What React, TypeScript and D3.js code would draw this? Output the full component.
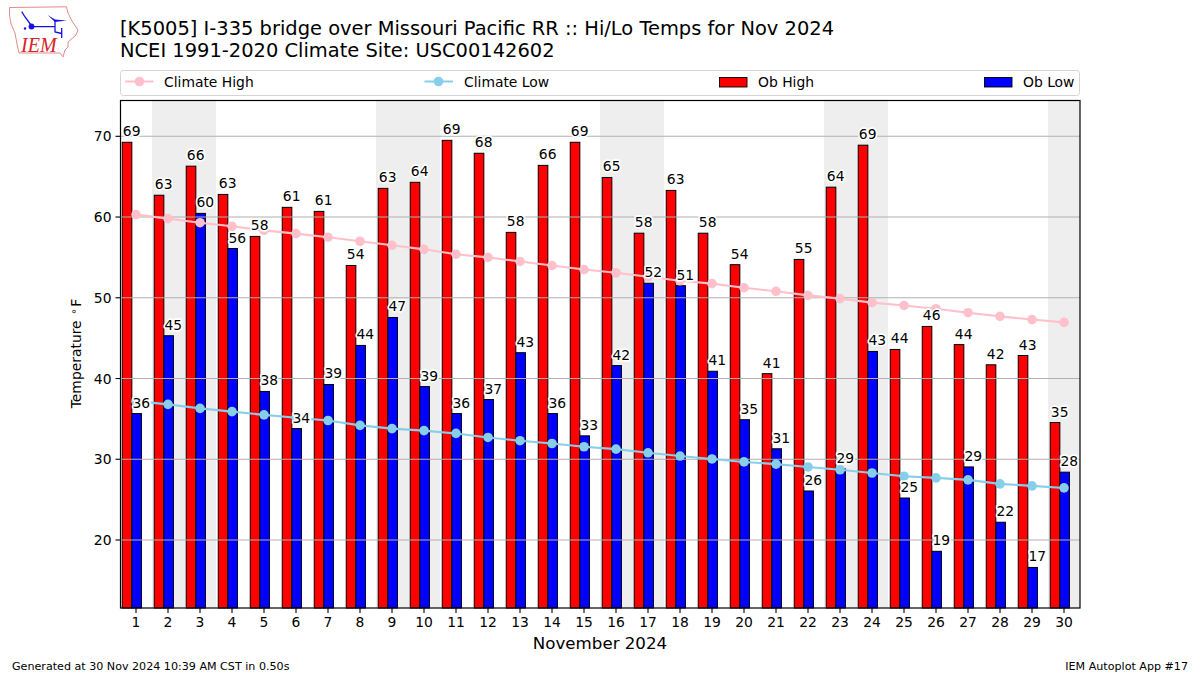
import React from "react";
import * as d3 from "d3";

const days = d3.range(1, 31);
const obHigh = [69.26,62.7,66.3,62.8,57.6,61.2,60.7,54.0,63.55,64.3,69.5,67.9,58.1,66.4,69.26,64.9,58.0,63.3,58.0,54.1,40.6,54.75,63.7,68.9,43.6,46.45,44.2,41.7,42.85,34.55];
const obLow = [35.66,45.3,60.45,56.1,38.4,33.8,39.26,44.1,47.56,39.0,35.66,37.4,43.2,35.66,32.9,41.6,51.8,51.5,40.9,34.9,31.3,26.07,28.8,43.35,25.2,18.6,29.05,22.2,16.6,28.4];
const highLabels = [69,63,66,63,58,61,61,54,63,64,69,68,58,66,69,65,58,63,58,54,41,55,64,69,44,46,44,42,43,35];
const lowLabels = [36,45,60,56,38,34,39,44,47,39,36,37,43,36,33,42,52,51,41,35,31,26,29,43,25,19,29,22,17,28];
const climateHigh = [60.3,59.8,59.3,58.85,58.35,57.95,57.5,57.0,56.5,56.0,55.4,55.0,54.5,54.0,53.5,53.1,52.6,52.1,51.75,51.25,50.8,50.3,49.9,49.4,49.05,48.65,48.15,47.7,47.3,46.95];
const climateLow = [37.2,36.8,36.3,35.9,35.5,35.15,34.8,34.2,33.8,33.55,33.2,32.7,32.3,31.95,31.55,31.25,30.8,30.4,30.04,29.67,29.4,29.05,28.7,28.3,27.9,27.7,27.45,26.95,26.7,26.45];
const weekendStarts = [2, 9, 16, 23, 30];
const yTicks = [20, 30, 40, 50, 60, 70];

const FONT = "'DejaVu Sans', sans-serif";
const L = 120.5, R = 1080, T = 100.5, B = 608;

export default function App() {
  const x = d3.scaleLinear().domain([0.5, 30.5]).range([120, 1080]);
  const y = d3.scaleLinear().domain([20, 70]).range([540, 136.3]);
  const barW = x(1.3) - x(1);
  const hiX = (d: number) => x(d - 0.43);
  const loX = (d: number) => x(d - 0.13);
  const line = d3.line<number>().x((_, i) => x(days[i])).y((v) => y(v));
  const halo = { stroke: "#fff", strokeWidth: 3.4, paintOrder: "stroke", strokeLinejoin: "round" } as const;

  return (
    <svg width={1200} height={675} viewBox="0 0 1200 675" fontFamily={FONT}
      style={{ position: "absolute", left: 0, top: 0, background: "#fff" }}>
      {/* logo */}
      <g>
        <path d="M9.5 7.5 L66.5 6.8 L68 13 L72 21 L78 30 L76 35 L68 42 L68 47 L65 50 L63 57 L60 53 L19 53 L17 44 L15 33 L11 24 L9.5 15 Z"
          fill="#fff" stroke="#e58a8a" strokeWidth={1} />
        <path d="M21.7 11.7 L25 17 L31.7 26 M31.7 26.7 L55 26.7 M55 21 L55 32 L61.7 33.5 M61.7 28 L61.7 38" fill="none" stroke="#1414e0" strokeWidth={1.3} />
        <path d="M47.7 15 L55 19.5 L66.7 20.5 L55 22 Z" fill="#1414e0" />
        <circle cx={31.5} cy={26.5} r={2.9} fill="#1414e0" />
        <circle cx={25} cy={28.5} r={1.2} fill="#1414e0" />
        <text x={21} y={52} fontFamily="'Liberation Serif', serif" fontStyle="italic" fontSize={20} fill="#d8232a">IEM</text>
      </g>

      {/* titles */}
      <text x={120} y={35} fontSize={19.46} fill="#000">[K5005] I-335 bridge over Missouri Pacific RR :: Hi/Lo Temps for Nov 2024</text>
      <text x={120} y={57} fontSize={19.46} fill="#000">NCEI 1991-2020 Climate Site: USC00142602</text>

      {/* legend */}
      <rect x={120.5} y={70.5} width={959} height={25} rx={3} fill="#fff" stroke="#d5d5d5" strokeWidth={1} />
      <line x1={125} x2={153.5} y1={81.5} y2={81.5} stroke="pink" strokeWidth={2} />
      <circle cx={139.5} cy={81.5} r={4.8} fill="pink" />
      <text x={164} y={86.5} fontSize={13.89}>Climate High</text>
      <line x1={424.5} x2={453} y1={81.5} y2={81.5} stroke="skyblue" strokeWidth={2} />
      <circle cx={438.5} cy={81.5} r={4.8} fill="skyblue" />
      <text x={464} y={86.5} fontSize={13.89}>Climate Low</text>
      <rect x={719.5} y={77.5} width={27.5} height={9.5} fill="#f00" stroke="#000" strokeWidth={0.9} />
      <text x={758} y={86.5} fontSize={13.89}>Ob High</text>
      <rect x={984.5} y={77.5} width={27.5} height={9.5} fill="#00f" stroke="#000" strokeWidth={0.9} />
      <text x={1023} y={86.5} fontSize={13.89}>Ob Low</text>

      {/* weekends */}
      {weekendStarts.map((d) => (
        <rect key={d} x={x(d - 0.5)} y={T} width={Math.min(x(d + 1.5), 1080) - x(d - 0.5)} height={B - T} fill="#eee" />
      ))}

      {/* bars */}
      {days.map((d, i) => (
        <g key={d}>
          <rect x={hiX(d)} y={y(obHigh[i])} width={barW} height={B - y(obHigh[i])} fill="#f00" stroke="#000" strokeWidth={1} />
          <rect x={loX(d)} y={y(obLow[i])} width={barW} height={B - y(obLow[i])} fill="#00f" stroke="#000" strokeWidth={1} />
        </g>
      ))}

      {/* grid */}
      {yTicks.map((t) => (
        <line key={t} x1={L} x2={R} y1={y(t)} y2={y(t)} stroke="#b0b0b0" strokeWidth={1.1} />
      ))}

      {/* climate */}
      <path d={line(climateHigh) ?? ""} fill="none" stroke="pink" strokeWidth={2.1} />
      {days.map((d, i) => <circle key={d} cx={x(d)} cy={y(climateHigh[i])} r={4.8} fill="pink" />)}
      <path d={line(climateLow) ?? ""} fill="none" stroke="skyblue" strokeWidth={2.1} />
      {days.map((d, i) => <circle key={d} cx={x(d)} cy={y(climateLow[i])} r={4.8} fill="skyblue" />)}

      {/* value labels */}
      {days.map((d, i) => (
        <g key={d} fontSize={13.89} fill="#000">
          <text x={hiX(d) + 0.6} y={y(obHigh[i]) - 6} {...halo}>{highLabels[i]}</text>
          <text x={loX(d) + 0.6} y={y(obLow[i]) - 6} {...halo}>{lowLabels[i]}</text>
        </g>
      ))}

      {/* axes frame */}
      <rect x={L} y={T} width={R - L} height={B - T} fill="none" stroke="#000" strokeWidth={1.2} />
      {days.map((d) => (
        <g key={d}>
          <line x1={x(d)} x2={x(d)} y1={B} y2={B + 5} stroke="#000" strokeWidth={1.1} />
          <text x={x(d)} y={B + 19} textAnchor="middle" fontSize={13.89}>{d}</text>
        </g>
      ))}
      {yTicks.map((t) => (
        <g key={t}>
          <line x1={L - 5} x2={L} y1={y(t)} y2={y(t)} stroke="#000" strokeWidth={1.1} />
          <text x={L - 9} y={y(t) + 5} textAnchor="end" fontSize={13.89}>{t}</text>
        </g>
      ))}

      <text x={600} y={649} textAnchor="middle" fontSize={16.67}>November 2024</text>
      <text transform="translate(81,353.5) rotate(-90)" textAnchor="middle" fontSize={13.89}>
        Temperature <tspan dx={1.5} dy={-4} fontSize={10}>∘</tspan><tspan dx={1.5} dy={4}>F</tspan>
      </text>
      <text x={12} y={670} fontSize={11.11}>Generated at 30 Nov 2024 10:39 AM CST in 0.50s</text>
      <text x={1188} y={670} textAnchor="end" fontSize={11.11}>IEM Autoplot App #17</text>
    </svg>
  );
}
